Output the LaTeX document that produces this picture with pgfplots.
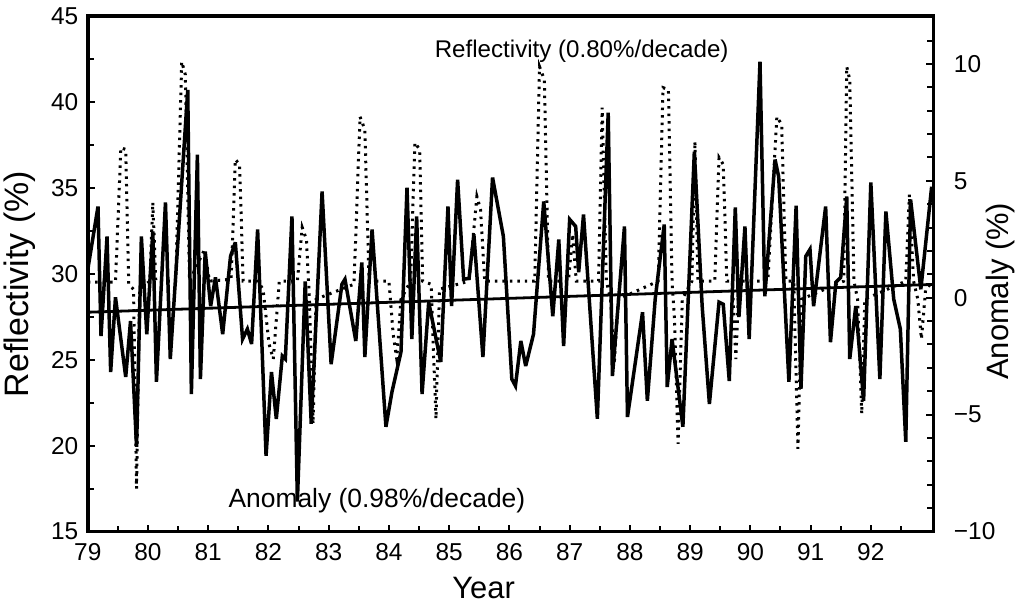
\documentclass[border=0pt]{standalone}
\usepackage{pgfplots}
\pgfplotsset{compat=1.18}
\usepackage{fontspec}
\setmainfont{Liberation Sans}

\pgfplotstableread{
year refl
79.00 29.51
79.46 29.51
79.55 37.34
79.63 37.23
79.68 29.39
79.76 29.10
79.81 17.50
79.86 29.10
80.03 29.57
80.08 34.15
80.13 29.57
80.46 29.57
80.56 42.34
80.62 41.58
80.69 29.57
80.94 31.42
81.02 29.57
81.38 29.68
81.45 36.65
81.52 36.36
81.58 29.57
81.82 29.57
81.91 29.10
82.01 25.91
82.08 25.04
82.18 29.57
82.48 29.57
82.56 32.70
82.63 32.00
82.68 28.52
82.74 21.27
82.79 28.52
83.42 29.39
83.52 39.14
83.60 38.39
83.67 29.57
84.00 29.57
84.07 26.49
84.13 25.04
84.20 28.52
84.36 29.57
84.43 37.63
84.51 37.23
84.56 29.57
84.70 29.39
84.78 21.56
84.84 29.10
85.33 29.57
85.46 34.50
85.52 33.75
85.59 29.57
86.42 29.57
86.50 42.05
86.58 41.29
86.65 29.57
86.98 29.57
87.05 32.30
87.11 29.57
87.48 29.57
87.54 39.67
87.61 29.57
87.68 28.52
87.74 24.75
87.81 28.52
88.47 29.57
88.55 40.83
88.64 40.71
88.70 29.57
88.74 27.36
88.80 20.11
88.87 28.52
89.03 29.57
89.08 37.69
89.13 29.57
89.41 29.57
89.48 36.76
89.55 36.36
89.61 29.57
89.70 29.57
89.76 25.04
89.81 29.57
90.29 29.57
90.44 39.14
90.52 38.68
90.59 29.57
90.72 29.57
90.79 19.82
90.85 28.52
91.55 29.57
91.60 42.05
91.65 41.29
91.72 29.57
91.78 28.52
91.85 21.85
91.90 28.52
92.58 29.57
92.64 34.62
92.71 29.57
92.78 28.52
92.84 26.20
92.91 29.10
93.04 29.57
}\refltable

\pgfplotstableread{
year anom
79.00 1.20
79.17 3.90
79.22 -1.64
79.32 2.62
79.38 -3.18
79.46 0.02
79.63 -3.39
79.71 -1.00
79.81 -6.38
79.89 2.62
79.98 -1.56
80.08 2.84
80.14 -3.60
80.29 4.07
80.37 -2.62
80.66 8.89
80.72 -4.12
80.82 6.12
80.87 -3.48
80.95 1.98
81.04 -0.36
81.12 0.87
81.24 -1.56
81.37 1.77
81.45 2.37
81.57 -1.77
81.65 -1.34
81.72 -1.98
81.82 2.92
81.96 -6.76
82.05 -3.18
82.13 -5.18
82.23 -2.49
82.28 -2.62
82.39 3.48
82.48 -8.72
82.61 0.70
82.71 -5.39
82.89 4.54
83.04 -2.84
83.22 0.58
83.27 0.79
83.45 -1.85
83.55 1.51
83.60 -2.54
83.72 2.92
83.95 -5.52
84.05 -4.03
84.20 -2.32
84.30 4.71
84.38 -1.77
84.46 3.48
84.55 -4.12
84.66 -0.19
84.86 -2.75
84.98 3.90
85.04 -0.36
85.14 5.05
85.24 0.79
85.33 0.83
85.41 2.71
85.56 -2.54
85.72 5.14
85.90 2.62
86.04 -3.48
86.10 -3.77
86.19 -1.85
86.27 -2.92
86.40 -1.56
86.57 4.12
86.72 -0.79
86.82 2.49
86.90 -2.07
87.00 3.35
87.10 3.05
87.15 1.09
87.23 3.56
87.46 -5.18
87.64 7.91
87.71 -3.35
87.91 3.05
87.96 -5.10
88.21 -0.62
88.29 -4.41
88.42 -0.06
88.57 3.13
88.62 -3.82
88.70 -1.77
88.88 -5.52
89.07 6.25
89.20 -0.36
89.32 -4.54
89.48 -0.19
89.55 -0.28
89.65 -3.56
89.75 3.86
89.81 -0.83
89.91 3.05
89.98 -1.77
90.16 10.09
90.24 0.06
90.41 5.91
90.47 5.18
90.64 -3.60
90.76 3.94
90.84 -3.90
90.92 1.77
90.99 2.07
91.05 -0.36
91.25 3.90
91.33 -1.90
91.42 0.66
91.50 0.87
91.60 4.33
91.65 -2.62
91.75 -0.36
91.88 -4.41
92.00 4.93
92.15 -3.48
92.25 3.69
92.38 -0.06
92.49 -1.34
92.58 -6.16
92.66 4.20
92.83 0.36
93.01 4.75
}\anomtable

\begin{document}
\begin{tikzpicture}
\path (0pt,0pt) rectangle (1018pt,606pt);
\begin{axis}[
  at={(88pt,73pt)}, anchor=south west,
  scale only axis, width=848pt, height=517pt,
  xmin=79, xmax=93.04, ymin=15, ymax=45,
  axis line style={line width=3.5pt},
  tick align=inside,
  xtick pos=left, ytick pos=left,
  xtick={79,80,...,92},
  xticklabels={79,80,81,82,83,84,85,86,87,88,89,90,91,92},
  minor xtick={79.5,80.5,...,92.5},
  ytick={15,20,...,45},
  yticklabels={15,20,25,30,35,40,45},
  minor ytick={17.5,22.5,...,42.5},
  major tick length=7pt, minor tick length=6pt,
  every tick/.style={line width=2pt, black},
  ticklabel style={font=\fontsize{24.5}{26}\selectfont},
  yticklabel style={xshift=-6pt},
  xticklabel style={yshift=-8pt},
  xlabel={Year},
  xlabel style={font=\fontsize{31}{33}\selectfont, at={(axis description cs:0.468,-0.11)}, anchor=center},
  ylabel={Reflectivity (\%)},
  ylabel style={font=\fontsize{34}{36}\selectfont, at={(axis description cs:-0.080,0.48)}, anchor=center, rotate=0},
]
\addplot[black, line width=3pt, dash pattern=on 2.5pt off 5pt] table[x=year, y=refl] {\refltable};
\node[font=\fontsize{24.2}{26}\selectfont] at (axis cs:87.2,42.92) {Reflectivity (0.80\%/decade)};
\node[font=\fontsize{26.5}{28}\selectfont] at (axis cs:83.80,16.80) {Anomaly (0.98\%/decade)};
\end{axis}
\begin{axis}[
  at={(88pt,73pt)}, anchor=south west,
  scale only axis, width=848pt, height=517pt,
  xmin=79, xmax=93.04, ymin=-10, ymax=12.05,
  axis x line=none, axis y line*=right,
  axis line style={line width=3.5pt},
  tick align=inside,
  ytick={-10,-5,0,5,10},
  yticklabels={−10,−5,0,5,10},
  minor ytick={-9,-8,...,12},
  major tick length=7pt, minor tick length=6pt,
  every tick/.style={line width=2pt, black},
  ticklabel style={font=\fontsize{24.5}{26}\selectfont},
  yticklabel style={xshift=17pt},
  ylabel={Anomaly (\%)},
  ylabel style={font=\fontsize{31}{33}\selectfont, at={(axis description cs:1.079,0.466)}, anchor=center, rotate=0},
]
\addplot[black, line width=3.5pt, line join=miter, miter limit=4] table[x=year, y=anom] {\anomtable};
\addplot[black, line width=2.8pt] coordinates {(79,-0.62) (93.04,0.57)};
\end{axis}
\end{tikzpicture}
\end{document}
